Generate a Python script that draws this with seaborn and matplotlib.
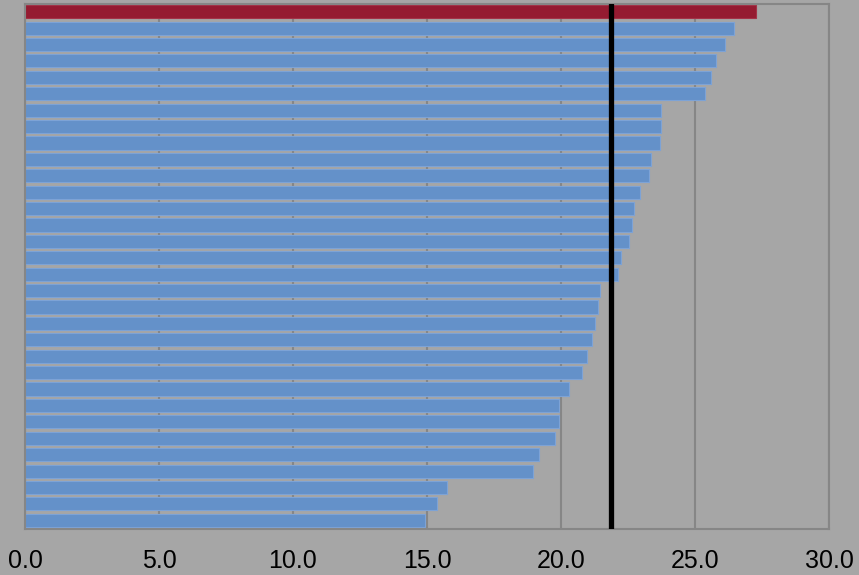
import matplotlib
matplotlib.use("Agg")
import matplotlib.pyplot as plt
import matplotlib.colors as mcolors
import seaborn as sns
import pandas as pd

categories = [f"Item {i+1}" for i in range(32)]
values = [27.28, 26.44, 26.11, 25.80, 25.60, 25.37, 23.73, 23.72, 23.68, 23.37,
          23.30, 22.94, 22.74, 22.64, 22.54, 22.24, 22.11, 21.47, 21.37, 21.26,
          21.16, 20.96, 20.77, 20.29, 19.93, 19.92, 19.76, 19.17, 18.96, 15.75,
          15.36, 14.93]
highlight = "Item 1"
reference_value = 21.88
xticks = [0, 5, 10, 15, 20, 25, 30]
xtick_labels = ["0.0", "5.0", "10.0", "15.0", "20.0", "25.0", "30.0"]

bg = "#A6A6A6"
blue = "#6491C9"
red = "#951B31"

df = pd.DataFrame({"category": categories, "value": values})
palette = {c: (red if c == highlight else blue) for c in categories}

sns.set_style("white")
plt.rcParams["font.family"] = ["Liberation Sans", "DejaVu Sans"]

fig = plt.figure(figsize=(8.59, 5.75), dpi=100, facecolor=bg)
ax = fig.add_axes([25 / 859, 1 - 528.5 / 575, 804 / 859, 525 / 575])
ax.set_facecolor(bg)

sns.barplot(data=df, y="category", x="value", hue="category", palette=palette,
            order=categories, hue_order=categories, legend=False, orient="h",
            width=0.8, saturation=1, linewidth=0.8, ax=ax, zorder=2)

red_rgb = mcolors.to_rgb(red)
for p in ax.patches:
    fc = p.get_facecolor()[:3]
    if all(abs(a - b) < 0.01 for a, b in zip(fc, red_rgb)):
        p.set_edgecolor("#A33247")
    else:
        p.set_edgecolor("#7DA3D6")

ax.axvline(reference_value, color="black", linewidth=3.8, zorder=3)

ax.set_xlim(0, 30)
ax.set_ylim(len(categories) - 0.5, -0.5)
ax.set_xticks(xticks)
ax.set_xticklabels(xtick_labels, fontsize=18, color="black")
ax.set_yticks([])
ax.set_xlabel("")
ax.set_ylabel("")
ax.grid(axis="x", color="#868686", linewidth=1.5, zorder=0)
ax.set_axisbelow(True)
ax.tick_params(axis="x", direction="out", length=5, width=1.5, color="#868686", pad=10)
for s in ax.spines.values():
    s.set_color("#868686")
    s.set_linewidth(1.5)

fig.savefig("out.png", dpi=100, facecolor=bg)
